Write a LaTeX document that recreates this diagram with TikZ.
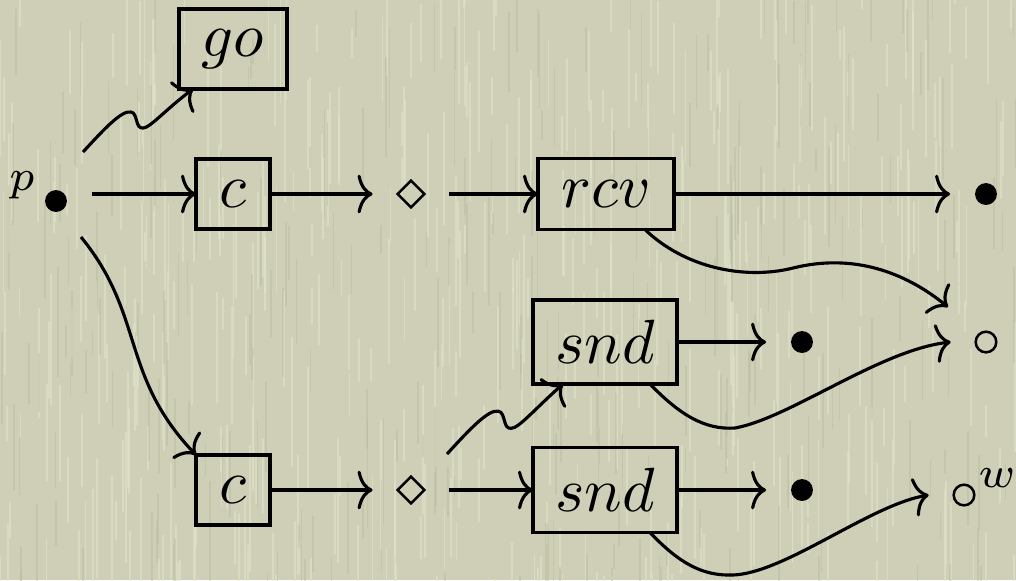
\documentclass[tikz,border=0pt]{standalone}
\usetikzlibrary{arrows.meta,calc,shapes.geometric}
\definecolor{paper}{RGB}{206,207,182}
\definecolor{paperlight}{RGB}{226,228,204}
\definecolor{paperdark}{RGB}{180,182,156}
\newcommand\pxu{0.16pt}
\begin{document}
\begin{tikzpicture}[x=0.16pt,y=-0.16pt,
  line width=0.5pt,
  arr/.style={-{Computer Modern Rightarrow[length=2.4pt,width=6.2pt]}},
  frame/.style 2 args={draw,rectangle,inner sep=0pt,outer sep=0pt,
    minimum width=#1*\pxu,minimum height=#2*\pxu},
  markbase/.style={outer sep=4pt},
  dot/.style={markbase,circle,fill,inner sep=0pt,minimum size=3.5pt},
  ring/.style={markbase,circle,draw,line width=0.4pt,inner sep=0pt,minimum size=3.3pt},
  diam/.style={diamond,draw,line width=0.4pt,inner sep=0pt,outer sep=0pt,minimum size=4.3pt},
  gapin/.style={shorten >=4pt},
  gapout/.style={shorten <=4pt},
  lbl/.style={inner sep=0pt}]

% paper background with faint vertical fibres
\fill[paper] (0,0) rectangle (1016,580);
\useasboundingbox (0,0) rectangle (1016,580);
\pgfmathsetseed{7}
\foreach \i in {1,...,420}{
  \pgfmathsetmacro\xx{rnd*1016}
  \pgfmathsetmacro\yy{rnd*620-40}
  \pgfmathsetmacro\ll{25+rnd*110}
  \draw[paperlight,opacity=0.55,line width=0.3pt] (\xx,\yy) -- ++(0,\ll);
}
\foreach \i in {1,...,260}{
  \pgfmathsetmacro\xx{rnd*1016}
  \pgfmathsetmacro\yy{rnd*620-40}
  \pgfmathsetmacro\ll{20+rnd*90}
  \draw[paperdark,opacity=0.35,line width=0.25pt] (\xx,\yy) -- ++(0,\ll);
}

% objects
\node[dot] (p) at (56,201) {};
\node[lbl] (pl) at (22,185) {$\scriptstyle p$};
\node[frame={108}{80}] (go) at (233,49) {$go$};
\node[frame={74}{70}] (c1) at (233,194) {$c$};
\node[diam] (d1) at (411,194) {};
\node[frame={136}{71}] (rcv) at (606,194) {$rcv$};
\node[dot] (b1) at (986,194) {};
\node[frame={144}{84}] (snd1) at (605,342) {$snd$};
\node[dot] (b2) at (802,342) {};
\node[ring] (o1) at (986,342) {};
\node[frame={74}{70}] (c2) at (233,490) {$c$};
\node[diam] (d2) at (411,490) {};
\node[frame={144}{85}] (snd2) at (605,490) {$snd$};
\node[dot] (b3) at (802,490) {};
\node[ring] (o2) at (964,495) {};
\node[lbl] (wl) at (997,478) {$\scriptstyle w$};

% straight arrows
\draw[arr] (p.east |- c1.west) -- (c1.west);
\draw[arr,gapin] (c1) -- (d1);
\draw[arr,gapout] (d1) -- (rcv);
\draw[arr] (rcv) -- (b1);
\draw[arr] (snd1) -- (b2);
\draw[arr,gapin] (c2) -- (d2);
\draw[arr,gapout] (d2) -- (snd2);
\draw[arr] (snd2) -- (b3);

% squiggly arrows
\draw[arr] ($(p)+(27,-49)$) .. controls (105,128) and (122,110) .. (131,112)
  .. controls (138,113) and (135,129) .. (143,128)
  .. controls (150,128) and (165,110) .. ($(go.south west)+(14,0)$);
\draw[arr] ($(d2)+(36,-36)$) .. controls (470.5,428.3) and (488.7,409.1) .. (498.4,411.2)
  .. controls (505.9,412.3) and (502.6,429.4) .. (511.2,428.3)
  .. controls (518.7,428.3) and (534.7,409.1) .. ($(snd1.south west)+(30,0)$);

% curved arrows
\draw[arr] ($(p)+(25,36)$) .. controls (145,315) and (120,375) .. (c2.north west);
\draw[arr] ($(rcv.south east)+(-29,0)$) .. controls (685,268) and (745,280) .. (793,268)
  .. controls (853,253) and (905,272) .. ($(o1)+(-38,-35)$);
\draw[arr] ($(snd1.south east)+(-27,0)$) .. controls (680,415) and (705,430) .. (735,428)
  .. controls (790,418) and (880,350) .. (o1.west);
\draw[arr] ($(snd2.south east)+(-27,0)$) .. controls (680,564) and (703,576) .. (733,575)
  .. controls (785,573) and (870,505) .. (o2.west);
\end{tikzpicture}
\end{document}
